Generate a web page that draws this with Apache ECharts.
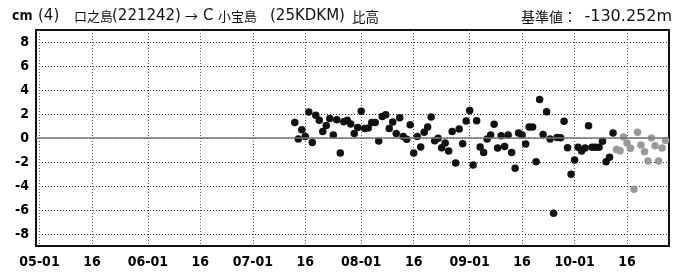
<!DOCTYPE html>
<html><head><meta charset="utf-8">
<script src="https://cdn.jsdelivr.net/npm/echarts@6/dist/echarts.min.js"></script>
<style>html,body{margin:0;padding:0;background:#fff}#c{width:685px;height:272px}</style>
</head><body><div id="c"></div>
<script>
// ---- data ----
const yTicks = [-8, -6, -4, -2, 0, 2, 4, 6, 8];
const axisStartDate = [2023, 4, 30];   // 04-30
const axisEndDate = [2023, 10, 28];    // 10-28
const blackStart = '07-13';
const blackValues = [
  1.3, -0.08, 0.69, 0.13, 2.17, -0.37, 1.9, 1.47, 0.55, 1.05,
  1.63, 0.25, 1.52, -1.25, 1.36, 1.47, 1.17, 0.38, 0.88, 2.22,
  0.8, 0.83, 1.3, 1.3, -0.25, 1.8, 1.94, 0.8, 1.33, 0.38,
  1.69, 0.13, -0.1, 1.1, -1.25, 0.13, -0.75, 0.47, 0.92, 1.75,
  -0.22, -0.03, -0.81, -0.42, -1.08, 0.55, -2.08, 0.75, -0.47, 1.42,
  2.3, -2.25, 1.44, -0.75, -1.2, -0.08, 0.25, 1.14, -0.83, 0.19,
  -0.7, 0.25, -1.2, -2.53, 0.42, 0.25, -0.5, 0.92, 0.92, -1.97,
  3.2, 0.3, 2.19, -0.08, -6.28, 0.05, 0.03, 1.39, -0.81, -3.03,
  -1.83, -0.78, -1.08, -0.83, 1.03, -0.78, -0.78, -0.78, -0.28, -1.97,
  -1.61, 0.42
];
const grayStart = '10-13';
const grayValues = [
  -0.95, -1.06, 0.08, -0.42, -0.86, -4.28, 0.47, -0.58, -1.14, -1.92,
  0, -0.64, -1.92, -0.83, -0.2
];
const titleText = ['cm', '(4)', '口之島', '(221242)', '→', 'C', '小宝島', '(25KDKM)', '比高'];
const baseText = ['基準値：', '-130.252m'];

// ---- axis categories (one per day) ----
const pad = n => String(n).padStart(2, '0');
const categories = [];
for (let t = Date.UTC(axisStartDate[0], axisStartDate[1] - 1, axisStartDate[2]);
     t <= Date.UTC(axisEndDate[0], axisEndDate[1] - 1, axisEndDate[2]); t += 86400000) {
  const d = new Date(t);
  categories.push(pad(d.getUTCMonth() + 1) + '-' + pad(d.getUTCDate()));
}
const toData = (start, vals) => {
  const s = categories.indexOf(start);
  return vals.map((v, i) => [categories[s + i], v]);
};
const isMajor = (i, v) => v.endsWith('-01') || v.endsWith('-16');

const NARROW = "'Liberation Sans Narrow', 'DejaVu Sans Condensed', 'Roboto Condensed', sans-serif";
const CJK = "'Noto Sans CJK JP', sans-serif";
const LAT = "'DejaVu Sans', sans-serif";

const chart = echarts.init(document.getElementById('c'), null, {renderer: 'canvas'});
const tY = 16.5;
const mk = (x, text, font, extra) => Object.assign({
  type: 'text', x: x, y: tY,
  style: Object.assign({text: text, font: font, fill: '#111', textVerticalAlign: 'middle', textAlign: 'left'}, extra || {})
});
chart.setOption({
  animation: false,
  backgroundColor: '#fff',
  grid: {left: 36, right: 16, top: 30, bottom: 26, show: true, borderColor: '#111', borderWidth: 2, backgroundColor: 'transparent'},
  graphic: [
    mk(12, titleText[0], "bold 14px " + NARROW),
    mk(38, titleText[1], "15px " + LAT),
    mk(74, titleText[2], "13px " + CJK),
    mk(112, titleText[3], "15px " + LAT),
    mk(185, titleText[4], "13px " + CJK),
    mk(203, titleText[5], "15px " + LAT),
    mk(218, titleText[6], "13px " + CJK),
    mk(270, titleText[7], "15px " + LAT),
    mk(352, titleText[8], "13.5px " + CJK),
    mk(521, baseText[0], "14px " + CJK),
    mk(672, baseText[1], "16px " + LAT, {textAlign: 'right'})
  ],
  xAxis: {
    type: 'category', data: categories, boundaryGap: false,
    axisLine: {show: false}, axisTick: {show: false},
    axisLabel: {
      interval: isMajor, formatter: v => v.endsWith('-16') ? '16' : v,
      color: '#000', fontFamily: NARROW, fontSize: 14, fontWeight: 'bold', margin: 9
    },
    splitLine: {show: true, interval: isMajor, lineStyle: {type: [1, 2], color: '#555', width: 1}}
  },
  yAxis: {
    type: 'value', min: -9, max: 9,
    axisLine: {show: false},
    axisTick: {show: false, customValues: yTicks},
    axisLabel: {customValues: yTicks, color: '#000', fontFamily: NARROW, fontSize: 14, fontWeight: 'bold', margin: 7},
    splitLine: {show: true, lineStyle: {type: [1, 2], color: '#222', width: 1}}
  },
  series: [
    {
      type: 'scatter', data: toData(blackStart, blackValues), symbolSize: 7.5,
      itemStyle: {color: '#111', opacity: 1},
      markLine: {silent: true, symbol: 'none', label: {show: false},
        lineStyle: {color: '#777', width: 1.5, type: 'solid'}, data: [{yAxis: 0}]}
    },
    {
      type: 'scatter', data: toData(grayStart, grayValues), symbolSize: 7.5,
      itemStyle: {color: '#999', opacity: 1}
    }
  ]
});
</script></body></html>
